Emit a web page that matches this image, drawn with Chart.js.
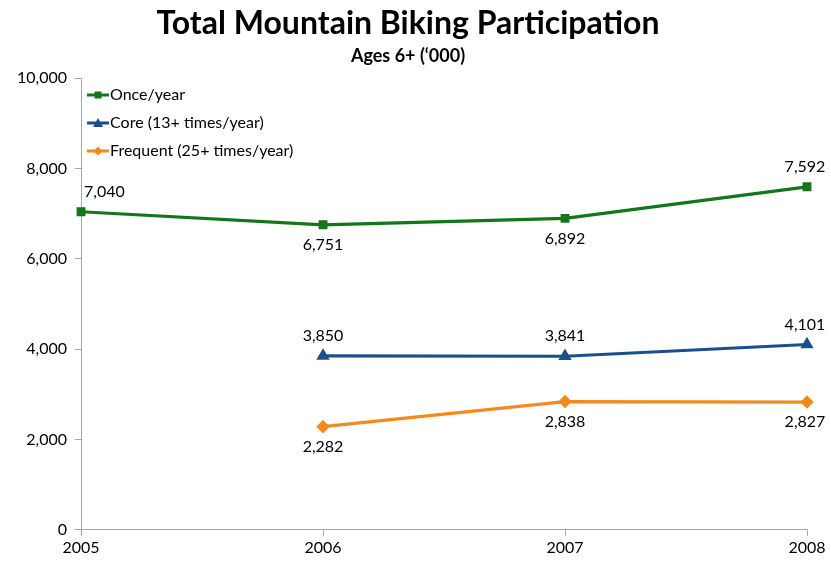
<!DOCTYPE html>
<html>
<head>
<meta charset="utf-8">
<script src="https://cdn.jsdelivr.net/npm/chart.js@4"></script>
<style>
  html, body { margin: 0; padding: 0; background: #fff; }
  #wrap { width: 831px; height: 561px; }
</style>
</head>
<body>
<div id="wrap"><canvas id="chart"></canvas></div>
<script>
const years = ['2005', '2006', '2007', '2008'];
const onceYear = [7040, 6751, 6892, 7592];
const coreYear = [null, 3850, 3841, 4101];
const frequentYear = [null, 2282, 2838, 2827];
const yTicks = [0, 2000, 4000, 6000, 8000, 10000];

const FONT = 'Lato, "Open Sans", sans-serif';
const fmt = v => v.toLocaleString('en-US');

// where each value label sits relative to its point: 'above' / 'below'
const labelPos = [
    ['above', 'below', 'below', 'above'],
    [null, 'above', 'above', 'above'],
    [null, 'below', 'below', 'below']
];

const valueLabels = {
    id: 'valueLabels',
    afterDatasetsDraw(chart) {
        const ctx = chart.ctx;
        ctx.save();
        ctx.font = '16px ' + FONT;
        ctx.fillStyle = '#000';
        ctx.textBaseline = 'middle';
        chart.data.datasets.forEach((ds, di) => {
            chart.getDatasetMeta(di).data.forEach((pt, i) => {
                const v = ds.data[i];
                if (v == null) return;
                let x = pt.x;
                ctx.textAlign = 'center';
                if (i === 0) { ctx.textAlign = 'left'; x += 3; }
                if (i === years.length - 1) { x -= 2; }
                const y = labelPos[di][i] === 'above' ? pt.y - 20 : pt.y + 20;
                ctx.fillText(fmt(v), x, y);
            });
        });
        ctx.restore();
    }
};

const insideLegend = {
    id: 'insideLegend',
    afterDraw(chart) {
        const ctx = chart.ctx;
        const area = chart.chartArea;
        ctx.save();
        ctx.font = '16px ' + FONT;
        ctx.textBaseline = 'middle';
        ctx.textAlign = 'left';
        chart.data.datasets.forEach((ds, di) => {
            const y = area.top + 17 + di * 28;
            const x0 = area.left + 6;
            ctx.strokeStyle = ds.borderColor;
            ctx.lineWidth = 3;
            ctx.beginPath();
            ctx.moveTo(x0, y);
            ctx.lineTo(x0 + 22, y);
            ctx.stroke();
            ctx.fillStyle = ds.borderColor;
            const cx = x0 + 11;
            ctx.beginPath();
            if (ds.pointStyle === 'rect') {
                ctx.rect(cx - 3.5, y - 3.5, 7, 7);
            } else if (ds.pointStyle === 'triangle') {
                ctx.moveTo(cx, y - 5); ctx.lineTo(cx + 5, y + 4); ctx.lineTo(cx - 5, y + 4);
            } else {
                ctx.moveTo(cx, y - 4.5); ctx.lineTo(cx + 4.5, y); ctx.lineTo(cx, y + 4.5); ctx.lineTo(cx - 4.5, y);
            }
            ctx.fill();
            ctx.fillStyle = '#000';
            ctx.fillText(ds.label, x0 + 23, y);
        });
        ctx.restore();
    }
};

const axisColor = '#a6a6a6';

new Chart(document.getElementById('chart'), {
    type: 'line',
    data: {
        labels: years,
        datasets: [
            {
                label: 'Once/year',
                data: onceYear,
                borderColor: '#13761a',
                backgroundColor: '#13761a',
                pointStyle: 'rect',
                pointRadius: 4,
                borderWidth: 3.2
            },
            {
                label: 'Core (13+ times/year)',
                data: coreYear,
                borderColor: '#1b4f8c',
                backgroundColor: '#1b4f8c',
                pointStyle: 'triangle',
                pointRadius: 4.5,
                borderWidth: 3.2
            },
            {
                label: 'Frequent (25+ times/year)',
                data: frequentYear,
                borderColor: '#f28a1e',
                backgroundColor: '#f28a1e',
                pointStyle: 'rectRot',
                pointRadius: 4.5,
                borderWidth: 3.2
            }
        ]
    },
    options: {
        responsive: true,
        maintainAspectRatio: false,
        animation: false,
        layout: { padding: { left: 9, right: 24, top: 2, bottom: 2 } },
        plugins: {
            legend: { display: false },
            tooltip: { enabled: false },
            title: {
                display: true,
                text: 'Total Mountain Biking Participation',
                color: '#000',
                font: { family: FONT, size: 32, weight: 'bold' },
                padding: { top: 2, bottom: 3 }
            },
            subtitle: {
                display: true,
                text: 'Ages 6+ (\u2018000)',
                color: '#000',
                font: { family: FONT, size: 18, weight: 'bold' },
                padding: { top: 0, bottom: 11 }
            }
        },
        scales: {
            x: {
                offset: false,
                grid: { display: true, drawOnChartArea: false, drawTicks: true, tickLength: 6, color: axisColor },
                border: { color: axisColor, width: 1 },
                ticks: { color: '#000', font: { family: FONT, size: 16 }, padding: 2, maxRotation: 0 }
            },
            y: {
                min: 0,
                max: 10000,
                afterBuildTicks: axis => { axis.ticks = yTicks.map(v => ({ value: v })); },
                grid: { display: true, drawOnChartArea: false, drawTicks: true, tickLength: 6, color: axisColor },
                border: { color: axisColor, width: 1 },
                ticks: { color: '#000', font: { family: FONT, size: 16 }, padding: 8, callback: v => fmt(v) }
            }
        }
    },
    plugins: [valueLabels, insideLegend]
});
</script>
</body>
</html>
